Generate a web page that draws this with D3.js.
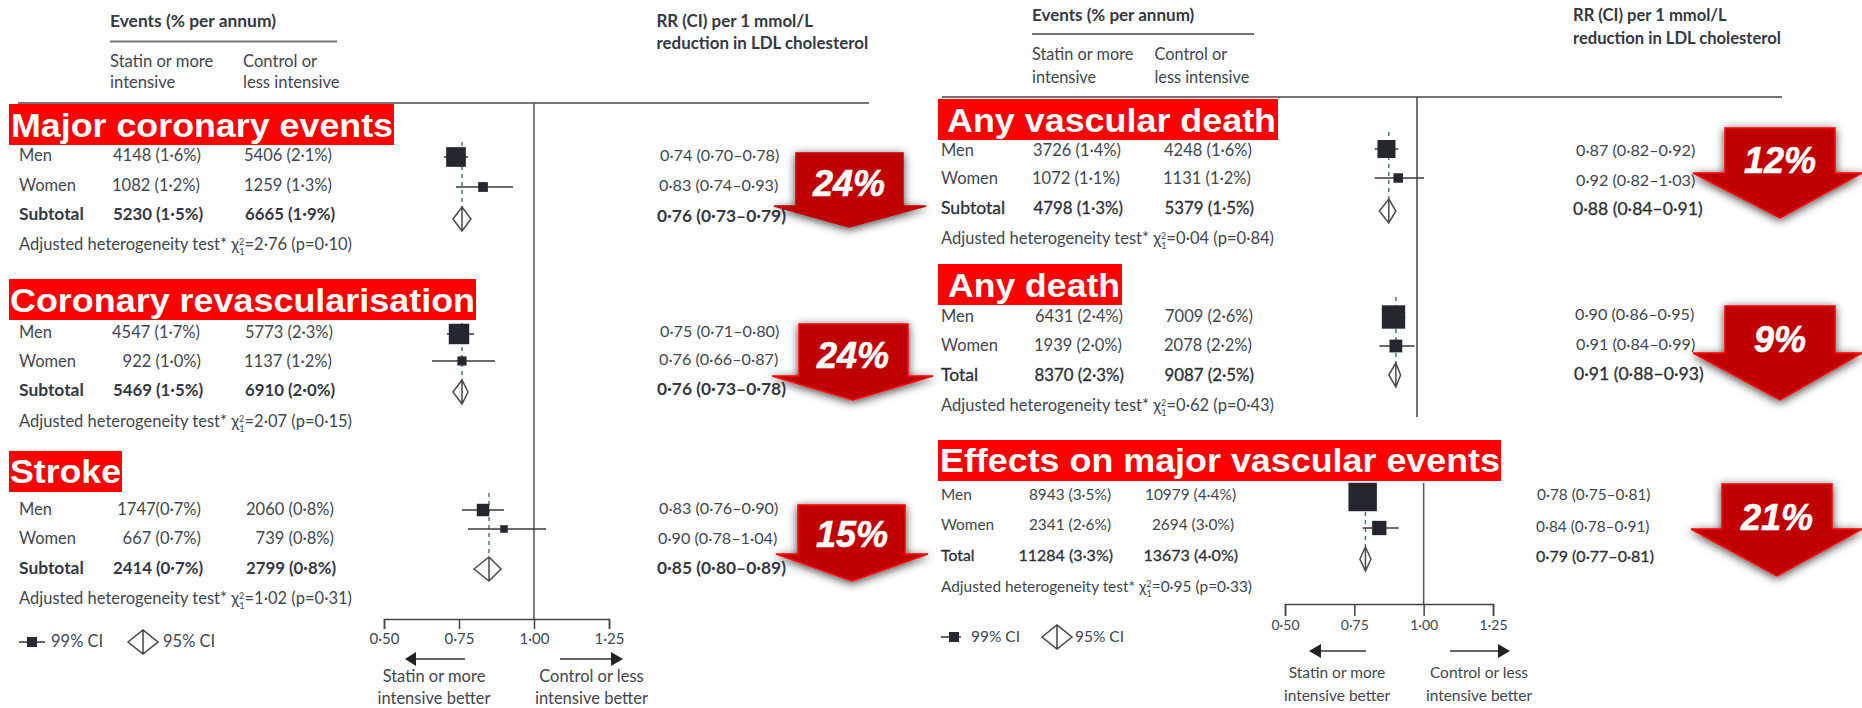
<!DOCTYPE html>
<html>
<head>
<meta charset="utf-8">
<script src="https://cdn.jsdelivr.net/npm/d3@7"></script>
<style>
  body { margin: 0; background: #fff; }
  svg { display: block; }
  text { font-family: Lato, "Open Sans", sans-serif; fill: #41464f; white-space: pre; }
  .bold { font-weight: 700; fill: #343842; }
  .semi { fill: #2c2f36; stroke: #2c2f36; stroke-width: 0.3px; }
  .banner { font-family: "Liberation Sans", Arial, sans-serif; font-weight: 700; fill: #fff; }
  .pct { font-family: "Liberation Sans", Arial, sans-serif; font-weight: 700; font-style: italic; fill: #fff; stroke: #fff; stroke-width: 0.6px; }
</style>
</head>
<body>
<div id="chart"></div>
<script>
// values
const outcomes = ["Major coronary events", "Coronary revascularisation", "Stroke", "Any vascular death", "Any death", "Effects on major vascular events"];
const totalLabels = ["Subtotal", "Subtotal", "Subtotal", "Subtotal", "Total", "Total"];
const statinCells = [
  ["4148 (1·6%)", "1082 (1·2%)", "5230 (1·5%)"],
  ["4547 (1·7%)", "922 (1·0%)", "5469 (1·5%)"],
  ["1747(0·7%)", "667 (0·7%)", "2414 (0·7%)"],
  ["3726 (1·4%)", "1072 (1·1%)", "4798 (1·3%)"],
  ["6431 (2·4%)", "1939 (2·0%)", "8370 (2·3%)"],
  ["8943 (3·5%)", "2341 (2·6%)", "11284 (3·3%)"]
];
const controlCells = [
  ["5406 (2·1%)", "1259 (1·3%)", "6665 (1·9%)"],
  ["5773 (2·3%)", "1137 (1·2%)", "6910 (2·0%)"],
  ["2060 (0·8%)", "739 (0·8%)", "2799 (0·8%)"],
  ["4248 (1·6%)", "1131 (1·2%)", "5379 (1·5%)"],
  ["7009 (2·6%)", "2078 (2·2%)", "9087 (2·5%)"],
  ["10979 (4·4%)", "2694 (3·0%)", "13673 (4·0%)"]
];
const rr = [[0.74, 0.83, 0.76], [0.75, 0.76, 0.76], [0.83, 0.90, 0.85], [0.87, 0.92, 0.88], [0.90, 0.91, 0.91], [0.78, 0.84, 0.79]];
const ciLow = [[0.70, 0.74, 0.73], [0.71, 0.66, 0.73], [0.76, 0.78, 0.80], [0.82, 0.82, 0.84], [0.86, 0.84, 0.88], [0.75, 0.78, 0.77]];
const ciHigh = [[0.78, 0.93, 0.79], [0.80, 0.87, 0.78], [0.90, 1.04, 0.89], [0.92, 1.03, 0.91], [0.95, 0.99, 0.93], [0.81, 0.91, 0.81]];
const chiSquare = ["2·76", "2·07", "1·02", "0·04", "0·62", "0·95"];
const heteroP = ["0·10", "0·15", "0·31", "0·84", "0·43", "0·33"];
const reductions = ["24%", "24%", "15%", "12%", "9%", "21%"];
const axisTicks = [0.5, 0.75, 1, 1.25];

// type sizes differ a little between the pasted figures
const typeLeft = {row: 16.5, rr: 16.2, totalLabel: 17.4, totalCell: 16.8, totalRR: 17.4, totalClass: "bold"};
const typeRight = {row: 16.5, rr: 16.2, totalLabel: 17.6, totalCell: 16.8, totalRR: 17.6, totalClass: "semi"};
const typeBottom = {row: 15.4, rr: 15.4, totalLabel: 15.8, totalCell: 16, totalRR: 16, totalClass: "semi"};

// where each block sits on the page, one entry per outcome
const blocks = [
  {type: typeLeft, range: [384, 609], banner: [9, 104, 385, 41], title: [11, 137, 382], textY: [156, 186, 215, 245], markY: [157, 187, 219], diaH: 12, dashTop: 142,
   labelX: 19, statinEnd: [201, 200, 203], controlEnd: [332, 332, 335], rrX: [660, 659, 657], rrY: [156, 186, 217],
   arrow: {cx: 849, shaft: [796, 903], top: 153, wingY: 206, wing: [774, 926], tip: 227, textY: 183, edge: "#c00000"}},
  {type: typeLeft, range: [384, 609], banner: [9, 279, 467, 41], title: [10, 312, 465], textY: [333, 362, 391, 422], markY: [334, 361, 392], diaH: 12, dashTop: 323,
   labelX: 19, statinEnd: [200, 201, 203], controlEnd: [333, 332, 335], rrX: [660, 659, 657], rrY: [332, 360, 390],
   arrow: {cx: 853, shaft: [799, 908], top: 324, wingY: 376, wing: [772, 933], tip: 400, textY: 355, edge: "#f00"}},
  {type: typeLeft, range: [384, 609], banner: [9, 451, 113, 41], title: [10, 483, 111], textY: [510, 539, 569, 599], markY: [510, 529, 569], diaH: 12, dashTop: 493,
   labelX: 19, statinEnd: [201, 201, 203], controlEnd: [334, 334, 336], rrX: [659, 658, 657], rrY: [509, 539, 569],
   arrow: {cx: 852, shaft: [798, 905], top: 505, wingY: 554, wing: [776, 928], tip: 581, textY: 534, edge: "#f00"}},
  {type: typeRight, range: [1299.5, 1475.75], banner: [938, 99, 340, 41], title: [947, 132, 329], textY: [151, 179, 209, 239], markY: [149, 178, 211], diaH: 12, dashTop: 132,
   labelX: 941, statinEnd: [1121, 1120, 1123], controlEnd: [1252, 1251, 1254], rrX: [1576, 1576, 1573], rrY: [151, 181, 210],
   arrow: {cx: 1780, shaft: [1725, 1835], top: 128, wingY: 173, wing: [1693, 1862], tip: 218, textY: 160, edge: "#f00"}},
  {type: typeRight, range: [1299.5, 1475.75], banner: [938, 264, 184, 41], title: [948, 297, 172], textY: [317, 346, 376, 406], markY: [317, 346, 375], diaH: 12, dashTop: 297,
   labelX: 941, statinEnd: [1123, 1122, 1124], controlEnd: [1253, 1252, 1254], rrX: [1575, 1576, 1574], rrY: [315, 345, 375],
   arrow: {cx: 1780, shaft: [1725, 1835], top: 306, wingY: 353, wing: [1693, 1862], tip: 400, textY: 339, edge: "#f00"}},
  {type: typeBottom, range: [1285, 1493], banner: [938, 440, 563, 41], title: [940, 472, 560], textY: [495, 525, 556, 587], markY: [497, 528, 559], diaH: 12, dashTop: 512,
   labelX: 941, statinEnd: [1111, 1111, 1113], controlEnd: [1236, 1234, 1238], rrX: [1537, 1536, 1536], rrY: [495, 527, 557],
   arrow: {cx: 1777, shaft: [1722, 1832], top: 484, wingY: 529, wing: [1691, 1862], tip: 576, textY: 517, edge: "#f00"}}
];

// the two figures pasted side by side
const figures = [
  {ruleY: 103, ruleX: [18, 869], zeroTop: 103, rule: "#777", ruleW: 2, eventsSize: 17.4, subSize: 16.6, rrSize: 16.9, axisSize: 15, lowSize: 16.5, headClass: "bold",
   eventsX: 110, eventsY: 22, subRule: [110, 337, 41.5], statinX: 110, controlX: 243, subY: [62, 83], rrX: 656.5, rrY: [22, 44],
   axisBlock: 2, axisY: 619, tickLen: 10, arrowY: 659, left: [405, 416, 465], right: [560, 611, 623], betterX: [434, 591.5], betterY: [677, 699],
   legendY: 642, legLine: [19, 45], legSq: 32, legText1: 51, legDia: 143, legText2: 163},
  {ruleY: 97, ruleX: [942, 1782], zeroTop: 483, rule: "#444", ruleW: 1.5, eventsSize: 17, subSize: 16.3, rrSize: 16.6, axisSize: 14, lowSize: 15.5, headClass: "bold",
   eventsX: 1032, eventsY: 16, subRule: [1032, 1254, 34], statinX: 1032, controlX: 1154.5, subY: [55, 78], rrX: 1573, rrY: [16, 39],
   axisBlock: 5, axisY: 604, tickLen: 12, arrowY: 651, left: [1309, 1321, 1366], right: [1450, 1498, 1510], betterX: [1337, 1479], betterY: [673, 696],
   legendY: 637, legLine: [941, 961], legSq: 954, legText1: 971, legDia: 1057, legText2: 1075}
];
// zero line of the upper right block stops above the bottom block
const upperRightZero = [97, 417];

const width = 1862, height = 708;
const rowNames = ["Men", "Women"];
const squareSide = d3.scaleSqrt().domain([0, 20000]).range([0, 28.5]);
const fmt = v => d3.format(".2f")(v).replace(".", "·");

const svg = d3.select("#chart").append("svg").attr("width", width).attr("height", height);

const defs = svg.append("defs");
defs.append("filter").attr("id", "arrowShadow")
    .attr("x", "-30%").attr("y", "-30%").attr("width", "160%").attr("height", "170%")
  .append("feDropShadow")
    .attr("dx", 0).attr("dy", 2).attr("stdDeviation", 5)
    .attr("flood-color", "#000").attr("flood-opacity", 0.75);

function label(sel, x, y, str, size, cls, anchor) {
  return sel.append("text")
    .attr("x", x).attr("y", y + 5)
    .attr("font-size", size)
    .attr("class", cls || null)
    .attr("text-anchor", anchor || "start")
    .text(str);
}

const lowerLayer = svg.append("g"); // rules and axis lines
const textLayer = svg.append("g");
const markLayer = svg.append("g");
const bannerLayer = svg.append("g");
const arrowLayer = svg.append("g");

// figure furniture: headers, rules, axis, legend
figures.forEach(f => {
  lowerLayer.append("line").attr("x1", f.ruleX[0]).attr("x2", f.ruleX[1]).attr("y1", f.ruleY).attr("y2", f.ruleY)
    .attr("stroke", f.rule).attr("stroke-width", f.ruleW);
  lowerLayer.append("line").attr("x1", f.subRule[0]).attr("x2", f.subRule[1]).attr("y1", f.subRule[2]).attr("y2", f.subRule[2])
    .attr("stroke", f.rule).attr("stroke-width", f.ruleW);

  label(textLayer, f.eventsX, f.eventsY, "Events (% per annum)", f.eventsSize, f.headClass);
  label(textLayer, f.statinX, f.subY[0], "Statin or more", f.subSize);
  label(textLayer, f.statinX, f.subY[1], "intensive", f.subSize);
  label(textLayer, f.controlX, f.subY[0], "Control or", f.subSize);
  label(textLayer, f.controlX, f.subY[1], "less intensive", f.subSize);
  label(textLayer, f.rrX, f.rrY[0], "RR (CI) per 1 mmol/L", f.rrSize, f.headClass);
  label(textLayer, f.rrX, f.rrY[1], "reduction in LDL cholesterol", f.rrSize, f.headClass);

  const b = blocks[f.axisBlock];
  const x = d3.scaleLinear().domain([0.5, 1.25]).range(b.range);

  lowerLayer.append("line").attr("x1", x(1)).attr("x2", x(1)).attr("y1", f.zeroTop).attr("y2", f.axisY)
    .attr("stroke", "#555").attr("stroke-width", 1.5);

  const axis = d3.axisBottom(x).tickValues(axisTicks).tickFormat(fmt).tickSize(f.tickLen).tickSizeOuter(f.tickLen).tickPadding(4);
  const gAxis = lowerLayer.append("g").attr("transform", `translate(0,${f.axisY})`).call(axis);
  gAxis.selectAll("line,path").attr("stroke", "#444").attr("stroke-width", 1.5);
  gAxis.selectAll("text").attr("font-size", f.axisSize).attr("fill", null);
  gAxis.attr("font-family", null).attr("font-size", null);

  // direction arrows under the axis
  [f.left, f.right].forEach((a, i) => {
    const tip = a[i === 0 ? 0 : 2], base = a[1], tail = a[i === 0 ? 2 : 0];
    lowerLayer.append("line").attr("x1", base).attr("x2", tail).attr("y1", f.arrowY).attr("y2", f.arrowY)
      .attr("stroke", "#333").attr("stroke-width", 1.5);
    lowerLayer.append("path").attr("d", d3.line()([[tip, f.arrowY], [base, f.arrowY - 7], [base, f.arrowY + 7]]) + "Z").attr("fill", "#222");
  });
  label(textLayer, f.betterX[0], f.betterY[0], "Statin or more", f.lowSize, null, "middle");
  label(textLayer, f.betterX[0], f.betterY[1], "intensive better", f.lowSize, null, "middle");
  label(textLayer, f.betterX[1], f.betterY[0], "Control or less", f.lowSize, null, "middle");
  label(textLayer, f.betterX[1], f.betterY[1], "intensive better", f.lowSize, null, "middle");

  // legend
  lowerLayer.append("line").attr("x1", f.legLine[0]).attr("x2", f.legLine[1]).attr("y1", f.legendY).attr("y2", f.legendY)
    .attr("stroke", "#333").attr("stroke-width", 1.5);
  markLayer.append("rect").attr("x", f.legSq - 5).attr("y", f.legendY - 5).attr("width", 10).attr("height", 10).attr("fill", "#262a33");
  label(textLayer, f.legText1, f.legendY, "99% CI", f.lowSize);
  markLayer.append("path")
    .attr("d", `M${f.legDia - 15},${f.legendY}L${f.legDia},${f.legendY - 12}L${f.legDia + 15},${f.legendY}L${f.legDia},${f.legendY + 12}Z M${f.legDia},${f.legendY - 12}V${f.legendY + 12}`)
    .attr("fill", "#fff").attr("stroke", "#444").attr("stroke-width", 1.5);
  label(textLayer, f.legText2, f.legendY, "95% CI", f.lowSize);
});

const upperX = d3.scaleLinear().domain([0.5, 1.25]).range(blocks[3].range);
lowerLayer.append("line").attr("x1", upperX(1)).attr("x2", upperX(1)).attr("y1", upperRightZero[0]).attr("y2", upperRightZero[1])
  .attr("stroke", "#444").attr("stroke-width", 1.5);

// one forest block per outcome
outcomes.forEach((name, i) => {
  const b = blocks[i], t = b.type;
  const x = d3.scaleLinear().domain([0.5, 1.25]).range(b.range);

  // banner title
  bannerLayer.append("rect").attr("x", b.banner[0]).attr("y", b.banner[1]).attr("width", b.banner[2]).attr("height", b.banner[3]).attr("fill", "#f00");
  bannerLayer.append("text").attr("class", "banner")
    .attr("x", b.title[0]).attr("y", b.title[1])
    .attr("font-size", 34)
    .attr("textLength", b.title[2]).attr("lengthAdjust", "spacingAndGlyphs")
    .text(name);

  // table rows
  label(textLayer, b.labelX, b.textY[0], rowNames[0], t.row);
  label(textLayer, b.labelX, b.textY[1], rowNames[1], t.row);
  label(textLayer, b.labelX, b.textY[2], totalLabels[i], t.totalLabel, t.totalClass);
  [0, 1, 2].forEach(r => {
    const total = r === 2;
    const cls = total ? t.totalClass : null;
    const cellSize = total ? t.totalCell : t.row;
    label(textLayer, b.statinEnd[r], b.textY[r], statinCells[i][r], cellSize, cls, "end");
    label(textLayer, b.controlEnd[r], b.textY[r], controlCells[i][r], cellSize, cls, "end");
    label(textLayer, b.rrX[r], b.rrY[r], `${fmt(rr[i][r])} (${fmt(ciLow[i][r])}–${fmt(ciHigh[i][r])})`, total ? t.totalRR : t.rr, cls);
  });

  // heterogeneity line with stacked sup/sub on chi
  const het = label(textLayer, b.labelX, b.textY[3], "Adjusted heterogeneity test* χ", t.row);
  het.append("tspan").attr("font-size", 9).attr("dy", -5).text("2");
  het.append("tspan").attr("font-size", 9).attr("dx", -5).attr("dy", 10).text("1");
  het.append("tspan").attr("dy", -5).text(`=${chiSquare[i]} (p=${heteroP[i]})`);

  // dashed reference at the pooled estimate
  const pooled = x(rr[i][2]);
  markLayer.append("line").attr("x1", pooled).attr("x2", pooled).attr("y1", b.dashTop).attr("y2", b.markY[2] - b.diaH)
    .attr("stroke", "#4d7a80").attr("stroke-width", 1.5).attr("stroke-dasharray", "4 4");

  // men and women: whisker and square
  [0, 1].forEach(r => {
    markLayer.append("line")
      .attr("x1", x(ciLow[i][r])).attr("x2", x(ciHigh[i][r])).attr("y1", b.markY[r]).attr("y2", b.markY[r])
      .attr("stroke", "#3a3a3f").attr("stroke-width", 1.5);
    const side = squareSide(parseInt(statinCells[i][r]) + parseInt(controlCells[i][r]));
    markLayer.append("rect")
      .attr("x", x(rr[i][r]) - side / 2).attr("y", b.markY[r] - side / 2)
      .attr("width", side).attr("height", side)
      .attr("fill", "#25272e");
  });

  // pooled diamond
  const cy = b.markY[2];
  markLayer.append("path")
    .attr("d", `M${x(ciLow[i][2])},${cy}L${pooled},${cy - b.diaH}L${x(ciHigh[i][2])},${cy}L${pooled},${cy + b.diaH}Z M${pooled},${cy - b.diaH}V${cy + b.diaH}`)
    .attr("fill", "#fff").attr("stroke", "#4a4a4f").attr("stroke-width", 1.5);

  // red arrow with the risk reduction
  const a = b.arrow;
  const pts = [[a.shaft[0], a.top], [a.shaft[1], a.top], [a.shaft[1], a.wingY], [a.wing[1], a.wingY], [a.cx, a.tip], [a.wing[0], a.wingY], [a.shaft[0], a.wingY]];
  arrowLayer.append("path")
    .attr("d", d3.line()(pts) + "Z")
    .attr("fill", "#c00000").attr("stroke", a.edge).attr("stroke-width", 1.5)
    .attr("filter", "url(#arrowShadow)");
  arrowLayer.append("text").attr("class", "pct")
    .attr("x", a.cx).attr("y", a.textY + 13)
    .attr("font-size", 36).attr("text-anchor", "middle")
    .text(reductions[i]);
});
</script>
</body>
</html>
